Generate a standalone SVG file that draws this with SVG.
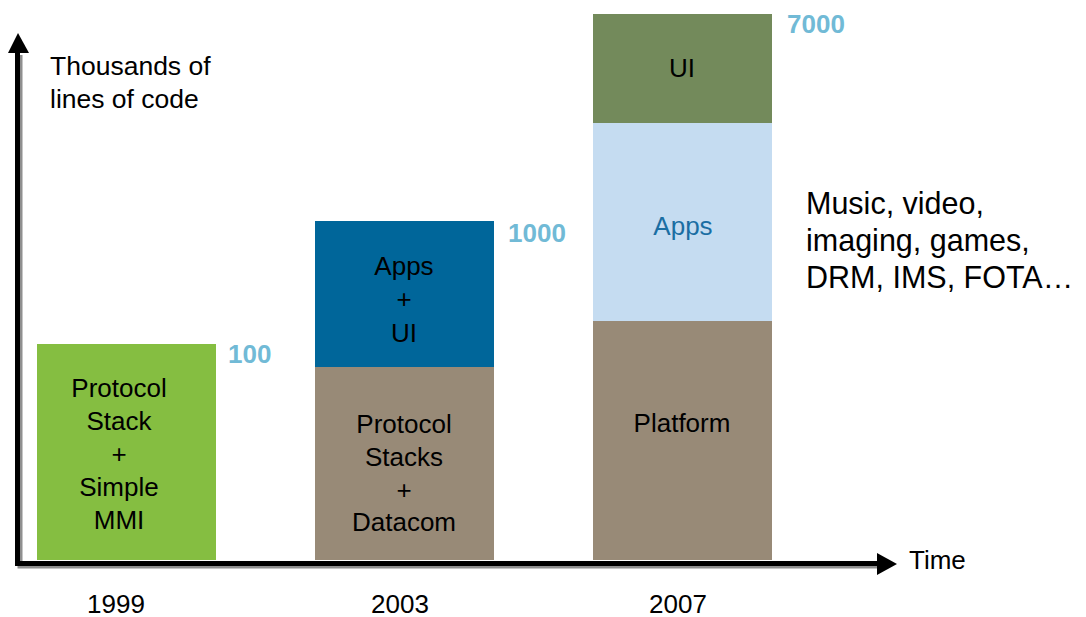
<svg xmlns="http://www.w3.org/2000/svg" width="1086" height="617" viewBox="0 0 1086 617">
<style>
text{font-family:"Liberation Sans",Arial,sans-serif;fill:#000}
.t{font-size:26px;text-anchor:middle}
.n{font-size:26px;font-weight:bold;fill:#71BAD6}
.ax{stroke:#000;stroke-width:5;fill:none}
.sh{stroke:#444;stroke-width:5;fill:none;opacity:0.6}
</style>
<rect width="1086" height="617" fill="#fff"/>
<g id="bar1999">
<rect x="37" y="344" width="179" height="216" fill="#85BE41"/>
<text class="t" x="119" y="397">Protocol</text>
<text class="t" x="119" y="430">Stack</text>
<text class="t" x="119" y="463">+</text>
<text class="t" x="119" y="496">Simple</text>
<text class="t" x="119" y="529">MMI</text>
</g>
<g id="bar2003">
<rect x="315" y="367" width="179" height="193" fill="#988A77"/>
<rect x="315" y="221" width="179" height="146" fill="#00669A"/>
<text class="t" x="404" y="275">Apps</text>
<text class="t" x="404" y="308">+</text>
<text class="t" x="404" y="342">UI</text>
<text class="t" x="404" y="433">Protocol</text>
<text class="t" x="404" y="466">Stacks</text>
<text class="t" x="404" y="499">+</text>
<text class="t" x="404" y="531">Datacom</text>
</g>
<g id="bar2007">
<rect x="593" y="321" width="179" height="239" fill="#988A77"/>
<rect x="593" y="123" width="179" height="198" fill="#C5DCF1"/>
<rect x="593" y="14" width="179" height="109" fill="#738A5B"/>
<text class="t" x="682" y="77">UI</text>
<text class="t" x="683" y="235" style="fill:#1A6EA3">Apps</text>
<text class="t" x="682" y="432">Platform</text>
</g>
<g id="values">
<text class="n" x="228" y="363">100</text>
<text class="n" x="508" y="242">1000</text>
<text class="n" x="787" y="33">7000</text>
</g>
<g id="labels">
<text x="50" y="75" font-size="26.5">Thousands of</text>
<text x="50" y="108" font-size="26.5">lines of code</text>
<text x="909" y="569" font-size="26">Time</text>
<text x="806" y="214" font-size="30.5">Music, video,</text>
<text x="806" y="251" font-size="30.5">imaging, games,</text>
<text x="806" y="288" font-size="30.5">DRM, IMS, FOTA…</text>
<text class="t" x="116" y="613">1999</text>
<text class="t" x="400" y="613">2003</text>
<text class="t" x="678" y="613">2007</text>
</g>
<g id="axes">
<path class="sh" d="M20 55 V566 H879"/>
<path class="ax" d="M17.5 52 V563.5 H878"/>
<polygon points="18,33 29,53 8,53" fill="#000"/>
<polygon points="877,553 897,564 877,575" fill="#000"/>
</g>
</svg>
